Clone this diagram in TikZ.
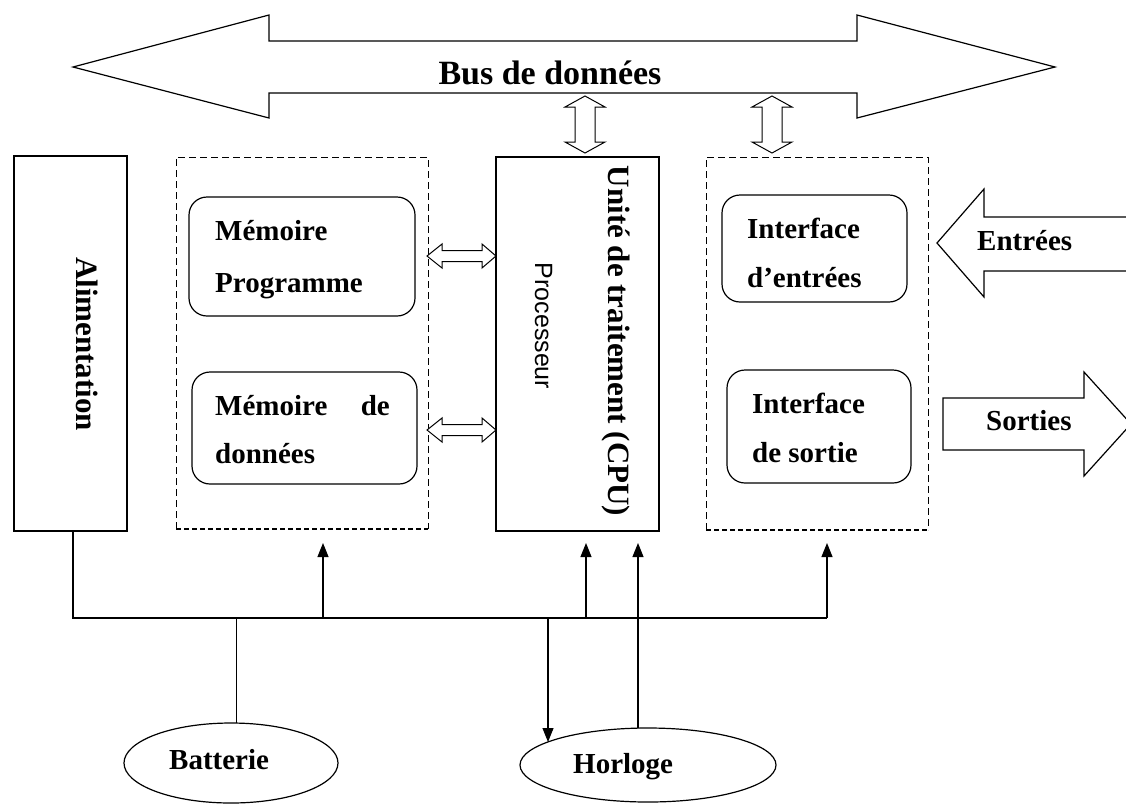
\documentclass[tikz,border=0pt]{standalone}
\usepackage{fontspec}
\setmainfont{Liberation Serif}
\newfontfamily\procfont{Liberation Sans}
\usetikzlibrary{shapes.geometric,arrows.meta,calc}
\newcommand\lblfont{\fontsize{29}{34}\selectfont\bfseries}
\newcommand\bigfont{\fontsize{31}{36}\selectfont\bfseries}
\newcommand\busfont{\fontsize{34}{40}\selectfont\bfseries}
\begin{document}
\begin{tikzpicture}[x=1pt,y=-1pt,
  blk/.style={draw, line width=1.3pt, inner sep=0pt, outer sep=0pt},
  rbox/.style={draw, line width=1.2pt, rounded corners=18pt, inner sep=0pt, outer sep=0pt},
  ghost/.style={draw=none, inner sep=0pt, outer sep=0pt},
  dside/.style={line width=1pt, dash pattern=on 7pt off 4pt},
  dbot/.style={line width=2pt, dash pattern=on 5pt off 3pt},
  barrow/.style={draw, line width=1.2pt, fill=white, line join=miter},
  conn/.style={line width=1.1pt, -{Triangle[length=14pt,width=11pt]}},
  wire/.style={line width=1.2pt},
  txt/.style={anchor=base west, inner sep=0pt, font=\lblfont},
  oval/.style={draw, ellipse, line width=1.2pt, inner sep=0pt, outer sep=0pt}]
\useasboundingbox (0,0) rectangle (1126,804);

% Bus de donnees
\draw[barrow] (73,67) -- (269,15) -- (269,41) -- (857,41) -- (857,15) -- (1055,67)
  -- (857,118) -- (857,93) -- (269,93) -- (269,118) -- cycle;
\node[anchor=base, inner sep=0pt, font=\busfont] (bus) at (550,84) {Bus de données};

% small vertical double arrows
\foreach \cx in {585,772}{
\draw[barrow, line width=1pt] (\cx,96) -- (\cx+20,107) -- (\cx+10,107) -- (\cx+10,142) -- (\cx+20,142)
  -- (\cx,153) -- (\cx-20,142) -- (\cx-10,142) -- (\cx-10,107) -- (\cx-20,107) -- cycle;
}

% Alimentation
\node[blk, minimum width=113pt, minimum height=375pt] (alim) at (70.5,343.5) {};
\node[rotate=-90, anchor=base, inner sep=0pt, font=\bigfont] (alimt) at (76,344) {Alimentation};

% Memory group
\node[ghost, minimum width=252pt, minimum height=372pt] (mem) at (302,343) {};
\draw[dside] (mem.south west) -- (mem.north west) -- (mem.north east) -- (mem.south east);
\draw[dbot] (mem.south west) -- (mem.south east);
\node[rbox, minimum width=226pt, minimum height=119pt] (mp) at (302,256.5) {};
\node[rbox, minimum width=225pt, minimum height=112pt] (md) at (304.5,428) {};
\node[txt] (mp1) at (215,240) {Mémoire};
\node[txt] (mp2) at (215,292) {Programme};
\node[txt] (md1) at (215,415) {Mémoire};
\node[txt, anchor=base east] (md2) at (390,415) {de};
\node[txt] (md3) at (215,463) {données};

% CPU
\node[blk, minimum width=163pt, minimum height=374pt] (cpu) at (577.5,344) {};
\node[rotate=-90, anchor=base, inner sep=0pt, font=\bigfont] (cput) at (608,341) {Unité de traitement (CPU)};
\node[rotate=-90, anchor=base, inner sep=0pt, font=\procfont\fontsize{25}{30}\selectfont] (proc) at (535,326) {Processeur};

% horizontal double arrows memory <-> CPU
\foreach \yy in {256,430}{
\draw[barrow, line width=1pt] (427,\yy) -- (442,\yy-12) -- (442,\yy-5.5) -- (482,\yy-5.5) -- (482,\yy-12)
  -- (496,\yy) -- (482,\yy+12) -- (482,\yy+5.5) -- (442,\yy+5.5) -- (442,\yy+12) -- cycle;
}

% Interface group
\node[ghost, minimum width=222pt, minimum height=373pt] (itf) at (817,343.5) {};
\draw[dside] (itf.south west) -- (itf.north west) -- (itf.north east) -- (itf.south east);
\draw[dbot] (itf.south west) -- (itf.south east);
\node[rbox, minimum width=185pt, minimum height=107pt] (ie) at (814.5,248.5) {};
\node[rbox, minimum width=184pt, minimum height=113pt] (is) at (819,426.5) {};
\node[txt] (ie1) at (747,238) {Interface};
\node[txt] (ie2) at (747,287) {d’entrées};
\node[txt] (is1) at (752,413) {Interface};
\node[txt] (is2) at (752,462) {de sortie};

% Entrees / Sorties block arrows
\draw[barrow] (1132,217) -- (984,217) -- (984,189) -- (937,243) -- (984,297) -- (984,271) -- (1132,271);
\node[txt] (ent) at (977,250) {Entrées};
\draw[barrow] (943,398) -- (1084,398) -- (1084,372) -- (1131,424) -- (1084,476) -- (1084,450) -- (943,450) -- cycle;
\node[txt] (sor) at (986,430) {Sorties};

% Batterie / Horloge
\node[oval, minimum width=214pt, minimum height=80pt] (bat) at (231,763) {};
\node[txt] (batt) at (169,769) {Batterie};
\node[oval, minimum width=256pt, minimum height=74pt] (hor) at (648,765) {};
\node[txt] (hort) at (573,773) {Horloge};

% distribution bus
\coordinate (pl) at (73,618);
\coordinate (pr) at (827,618);
\draw[wire] (alim.south -| pl) -- (pl) -- (pr);
\coordinate (am) at (323,543);
\coordinate (ac) at (586,543);
\coordinate (ah) at (638,543);
\coordinate (ai) at (827,543);
\draw[conn] (am |- pl) -- (am);
\draw[conn] (ac |- pl) -- (ac);
\draw[conn] (pr) -- (ai);
\draw[conn] (ah |- hor.north) -- (ah);
\coordinate (hd) at (548,617);
\coordinate (hdt) at ($(hor.center)+(-100,-23)$);
\draw[conn] (hd) -- (hd |- hdt);
\coordinate (bj) at (236,618);
\draw[line width=0.9pt] (bj) -- (bj |- bat.north);
\end{tikzpicture}
\end{document}
